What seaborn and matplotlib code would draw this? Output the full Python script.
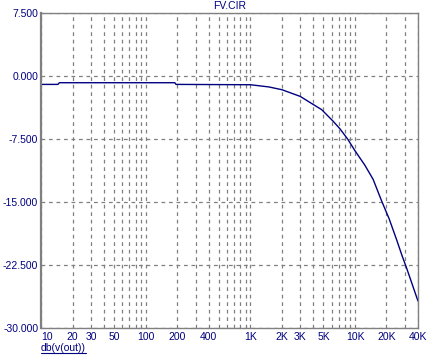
import pandas as pd
import matplotlib
matplotlib.use('Agg')
import matplotlib.pyplot as plt
import seaborn as sns
from matplotlib.lines import Line2D

# frequency response (Hz, dB)
freq = [10, 14.5, 15, 190, 195, 1000, 1500, 2000, 3000, 4000, 4800, 6200, 7200,
        8500, 10000, 12400, 14900, 18000, 21200, 25000, 28000, 31000, 35000, 40000]
db_out = [-1.0, -1.0, -0.8, -0.8, -1.0, -1.04, -1.3, -1.63, -2.43, -3.4, -4.0, -5.4, -6.3,
          -7.5, -8.9, -10.6, -12.3, -14.9, -17.0, -19.5, -21.3, -22.8, -24.7, -26.8]

x_major = [10, 20, 30, 50, 100, 200, 400, 1000, 2000, 3000, 5000, 10000, 20000, 40000]
x_labels = ['10', '20', '30', '50', '100', '200', '400', '1K', '2K', '3K', '5K', '10K', '20K', '40K']
y_ticks = [7.5, 0.0, -7.5, -15.0, -22.5, -30.0]
y_labels = ['7.500', '0.000', '-7.500', '-15.000', '-22.500', '-30.000']

df = pd.DataFrame({'freq': freq, 'db': db_out})

sns.set_style('white')
plt.rcParams['font.family'] = ['Liberation Sans', 'DejaVu Sans']

navy = '#000080'
grey = '#808080'

fig = plt.figure(figsize=(4.33, 3.56), dpi=100)
ax = fig.add_axes([41 / 433, 28 / 356, 377 / 433, 315 / 356])

sns.lineplot(data=df, x='freq', y='db', color=navy, linewidth=1.0, ax=ax)

ax.set_xscale('log')
ax.set_xlim(10, 40000)
ax.set_ylim(-30, 7.5)

# grid at every decade step
minor = [m * 10 ** e for e in range(1, 5) for m in range(1, 10) if 10 <= m * 10 ** e <= 40000]
minor = [v for v in minor if v not in x_major]
ax.set_xticks(x_major)
ax.set_xticks(minor, minor=True)
ax.set_xticklabels(x_labels)
ax.xaxis.set_minor_formatter(matplotlib.ticker.NullFormatter())
ax.set_yticks(y_ticks)
ax.set_yticklabels(y_labels)

ax.grid(True, which='both', axis='x', color=grey, linestyle=(0, (3, 3)), linewidth=0.9)
ax.grid(True, which='major', axis='y', color=grey, linestyle=(0, (3, 3)), linewidth=0.9)

ax.tick_params(axis='both', which='both', length=0, labelsize=7.5, labelcolor=navy)
ax.tick_params(axis='x', pad=3)
ax.tick_params(axis='y', pad=2)
ax.get_xticklabels()[0].set_horizontalalignment('left')

for side in ['left', 'right', 'top', 'bottom']:
    ax.spines[side].set_visible(True)
    ax.spines[side].set_color(grey)
    ax.spines[side].set_linewidth(1.0)
ax.spines['left'].set_linewidth(1.6)

ax.set_xlabel('')
ax.set_ylabel('')
ax.set_title('FV.CIR', color=navy, fontsize=7.5, pad=3)

# underlined trace name under the plot
lbl = fig.text(41 / 433, 5 / 356, 'db(v(out))', color=navy, fontsize=7.5,
               ha='left', va='baseline')
fig.canvas.draw()
bb = lbl.get_window_extent()
fig.add_artist(Line2D([bb.x0 / 433, bb.x1 / 433], [3.5 / 356, 3.5 / 356],
                      transform=fig.transFigure, color=navy, linewidth=0.8))

fig.savefig('out.png', dpi=100)
